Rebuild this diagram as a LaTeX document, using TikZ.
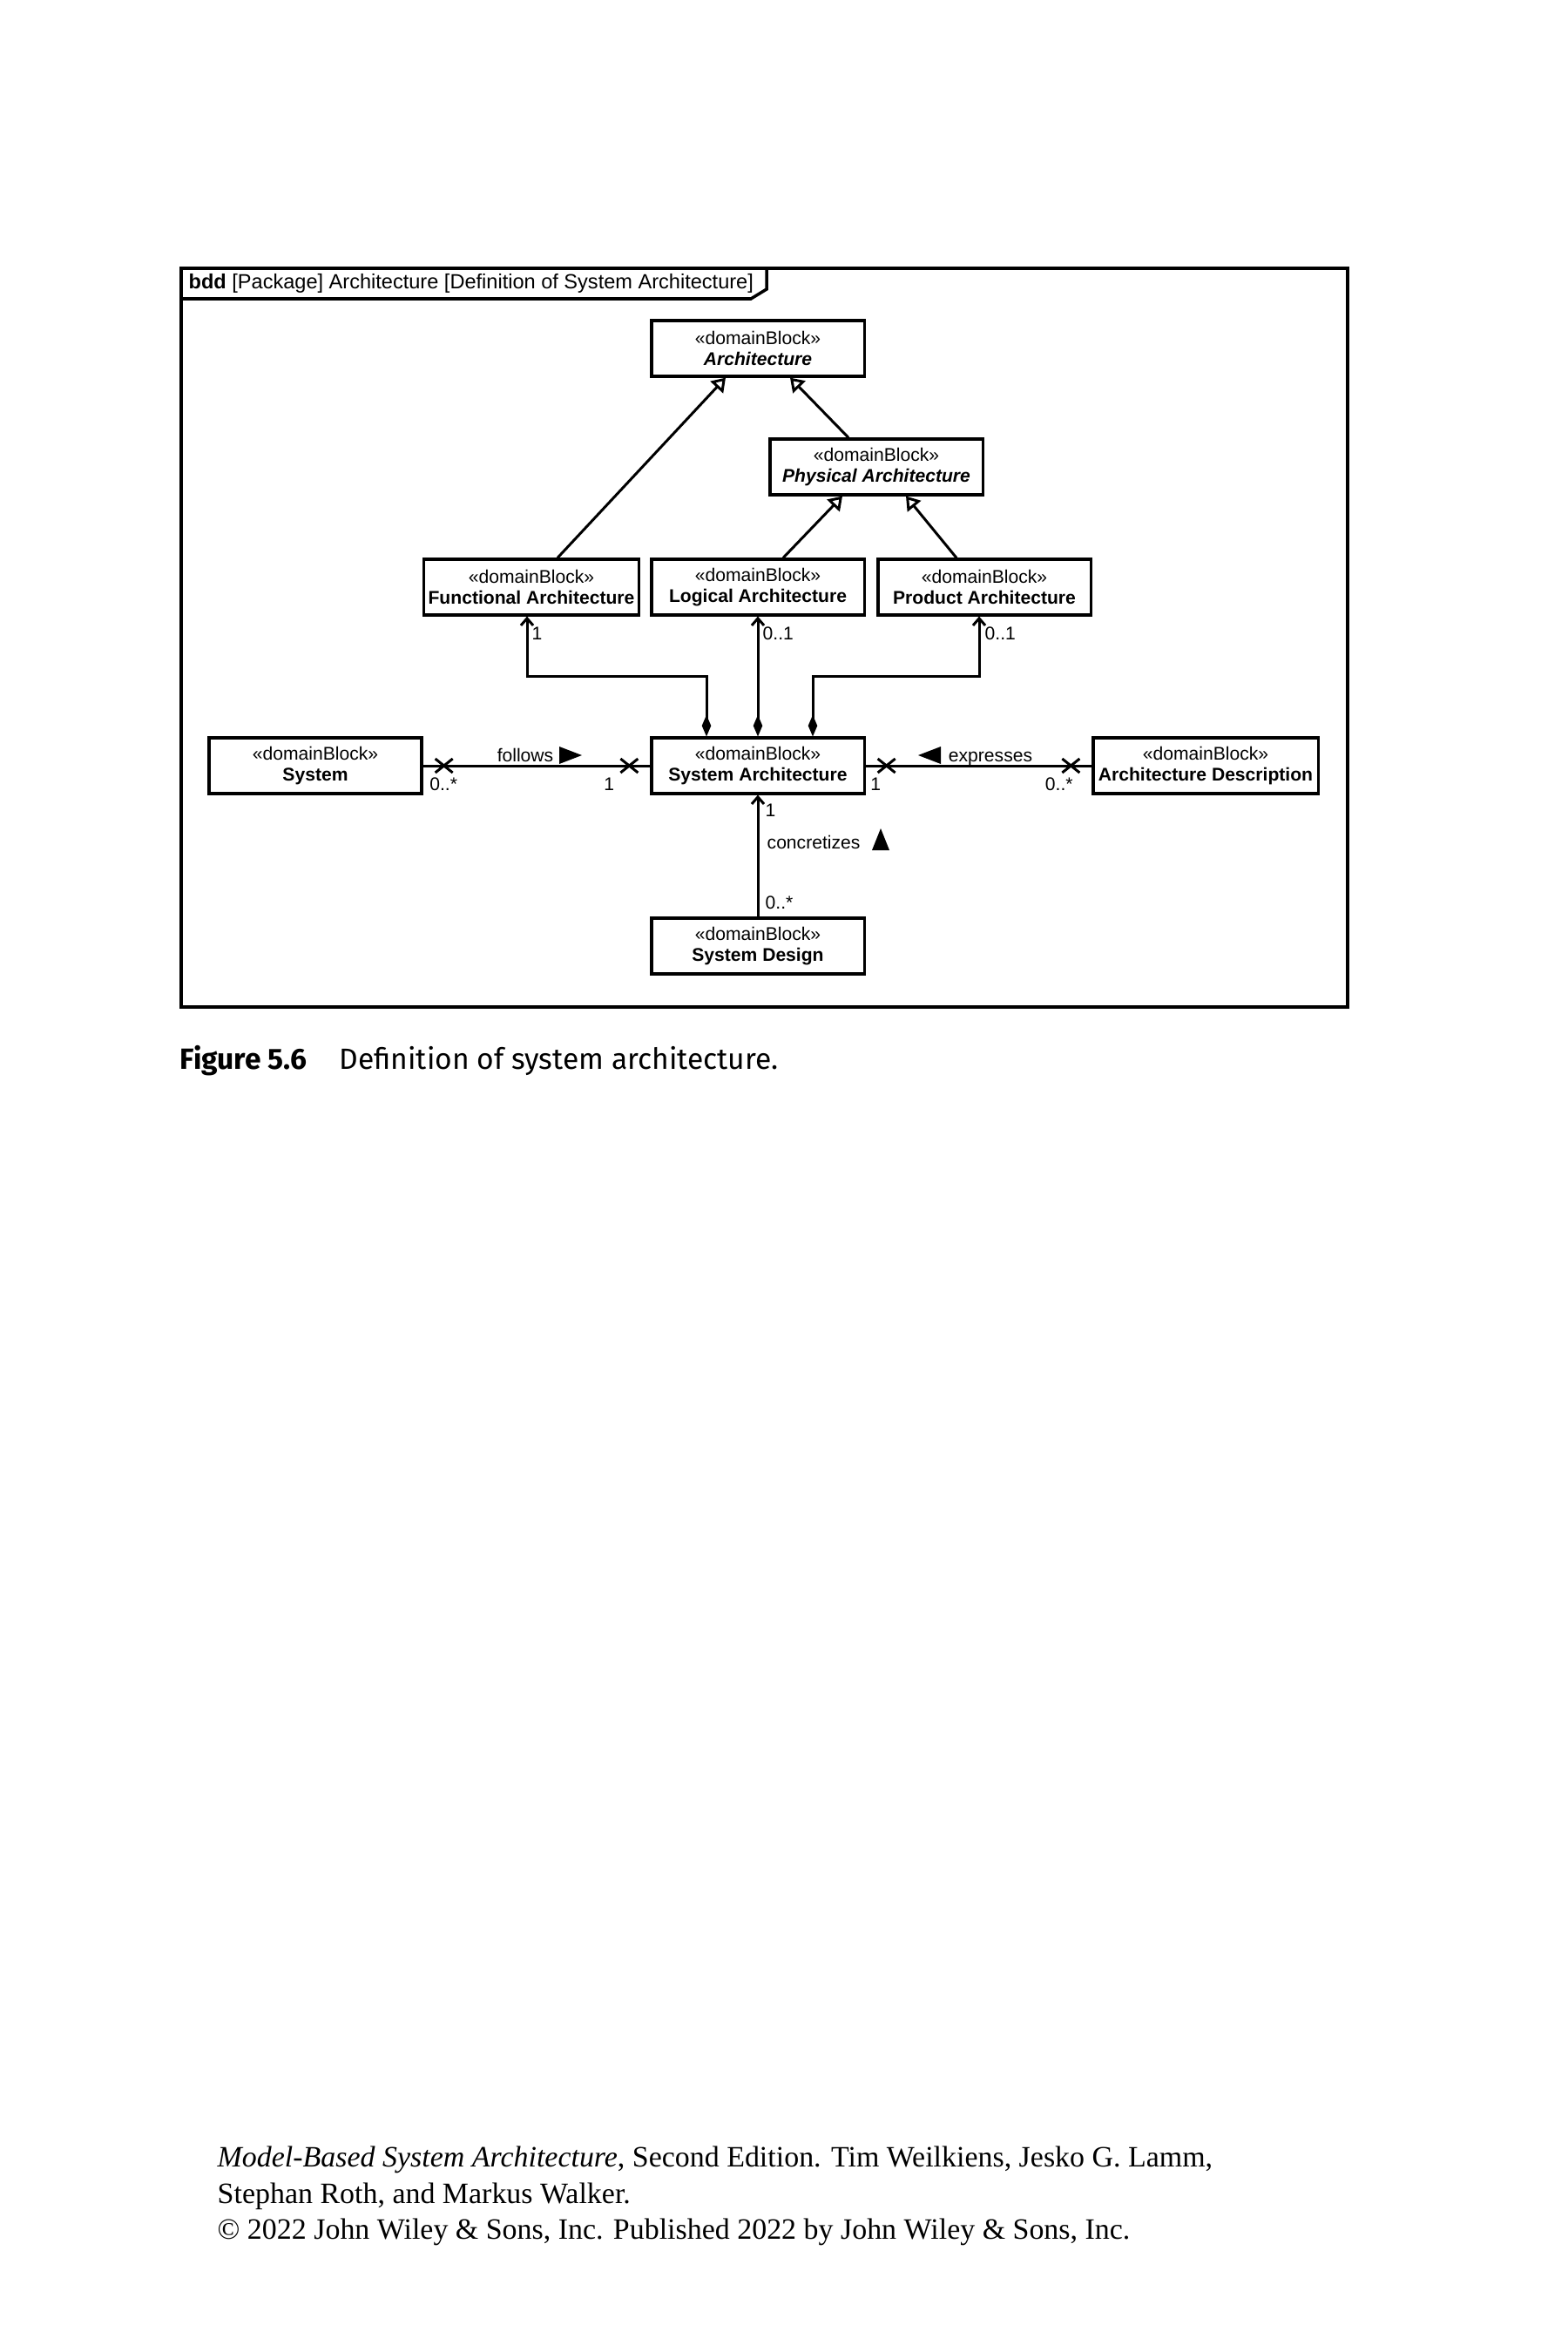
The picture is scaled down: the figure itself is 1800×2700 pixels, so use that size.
\documentclass[tikz,border=0pt]{standalone}
\usepackage{fontspec}
\setmainfont{Liberation Sans}
\newfontfamily\capfont{Fira Sans}
\newfontfamily\footfont{Liberation Serif}
\usetikzlibrary{arrows.meta,shapes.misc,calc}

\newcommand{\blockfont}{\fontsize{6}{6.8}\selectfont}

\tikzset{
  block/.style={draw, line width=0.9pt, fill=white, align=center,
    minimum width=2.44cm, minimum height=0.64cm, inner sep=0pt, font=\blockfont},
  conn/.style={line width=0.85pt},
  gen/.style={conn, -{Triangle[open, length=4.3pt, width=5.6pt, fill=white]}},
  comp/.style={conn, {Diamond[length=7pt, width=3pt]}-{Straight Barb[length=2.3pt, width=4pt]}},
  xmark/.style={cross out, draw, line width=0.85pt, inner sep=0pt,
    minimum width=0.17cm, minimum height=0.13cm},
  mult/.style={font=\blockfont, inner sep=0pt},
  frame/.style={line width=1pt},
  footline/.style={anchor=base west, inner sep=0pt, font=\footfont\fontsize{9.65}{11}\selectfont}
}

\begin{document}
\begin{tikzpicture}[x=0.01cm,y=-0.01cm]
     \useasboundingbox (0,0) rectangle (1800,2700);

          % frame with header
          \draw[frame] (208,308) rectangle (1547,1156);
          \draw[frame] (208,343) -- (862,343) -- (880,332) -- (880,308);
          \node[anchor=west, inner sep=0pt, font=\fontsize{6.7}{8}\selectfont] (hdr) at (216,325)
          {\textbf{bdd} [Package] Architecture [Definition of System Architecture]};

          % blocks
          \node[block] (arch) at (870,400) {«domainBlock»\\\textbf{\textit{Architecture}}};
          \node[block] (phys) at (1006,536) {«domainBlock»\\\textbf{\textit{Physical Architecture}}};
          \node[block, minimum width=2.47cm] (func) at (610,674) {«domainBlock»\\\textbf{Functional Architecture}};
          \node[block] (logi) at (870,674) {«domainBlock»\\\textbf{Logical Architecture}};
          \node[block] (prod) at (1130,674) {«domainBlock»\\\textbf{Product Architecture}};
          \node[block] (sys) at (362,879) {«domainBlock»\\\textbf{System}};
          \node[block] (sysarch) at (870,879) {«domainBlock»\\\textbf{System Architecture}};
          \node[block, minimum width=2.58cm] (archdesc) at (1384,879) {«domainBlock»\\\textbf{Architecture Description}};
          \node[block] (sysdes) at (870,1086) {«domainBlock»\\\textbf{System Design}};

          % generalizations
          \draw[gen] ($(func.north)+(30,0)$) -- ($(arch.south)+(-37,0)$);
          \draw[gen] ($(phys.north)+(-32,0)$) -- ($(arch.south)+(37,0)$);
          \draw[gen] ($(logi.north)+(29,0)$) -- ($(phys.south)+(-39,0)$);
          \draw[gen] ($(prod.north)+(-32,0)$) -- ($(phys.south)+(34,0)$);

          % compositions
          \draw[comp] ($(sysarch.north)+(-59,0)$) -- ++(0,-69) -| ($(func.south)+(-5,0)$);
          \draw[comp] (sysarch.north) -- (logi.south);
          \draw[comp] ($(sysarch.north)+(63,0)$) -- ++(0,-69) -| ($(prod.south)+(-6,0)$);
          \node[mult, anchor=west] (funcm) at ($(func.south)+(0,20)$) {1};
          \node[mult, anchor=west] (logim) at ($(logi.south)+(5,20)$) {0..1};
          \node[mult, anchor=west] (prodm) at ($(prod.south)+(0,20)$) {0..1};

          % associations
          \draw[conn] (sys.east) -- (sysarch.west);
          \node[xmark] (followsa) at ($(sys.east)+(24,0)$) {};
          \node[xmark] (followsb) at ($(sysarch.west)+(-24,0)$) {};
          \node[mult, anchor=west] (sysm) at ($(sys.east)+(7,21)$) {0..*};
          \node[mult] (sysarchm) at ($(sysarch.west)+(-47,21)$) {1};
          \node[mult, anchor=base] (follows) at (603,874) {follows};
          \fill (642,857) -- (668,867) -- (642,877) -- cycle;

          \draw[conn] (sysarch.east) -- (archdesc.west);
          \node[xmark] (expressa) at ($(sysarch.east)+(24,0)$) {};
          \node[xmark] (expressb) at ($(archdesc.west)+(-24,0)$) {};
          \node[mult, anchor=west] (sysarchn) at ($(sysarch.east)+(5,21)$) {1};
          \node[mult, anchor=east] (archdescm) at ($(archdesc.west)+(-21,21)$) {0..*};
          \node[mult, anchor=base] (expresses) at (1137,874) {expresses};
          \fill (1080,857) -- (1054,867) -- (1080,877) -- cycle;

          \draw[conn, -{Straight Barb[length=2.3pt, width=4pt]}] (sysdes.north) -- (sysarch.south);
          \node[mult, anchor=west] (sysarcho) at ($(sysarch.south)+(8,18)$) {1};
          \node[mult, anchor=west] (concretizes) at (880,967) {concretizes};
          \fill (1001,976) -- (1011,951) -- (1021,976) -- cycle;
          \node[mult, anchor=west] (sysdesm) at ($(sysdes.north)+(8,-16)$) {0..*};

          % caption and footer
          \node[anchor=base west, inner sep=0pt, font=\capfont\fontsize{9.55}{11}\selectfont] (caption) at (206,1227)
          {\textbf{Figure 5.6}\hspace{1.1em}Definition of system architecture.};
          \node[footline] (foota) at (249,2487)
          {\textit{Model-Based System Architecture}, Second Edition. Tim Weilkiens, Jesko G. Lamm,};
          \node[footline] (footb) at (249,2529) {Stephan Roth, and Markus Walker.};
          \node[footline] (footc) at (249,2570)
          {© 2022 John Wiley \& Sons, Inc. Published 2022 by John Wiley \& Sons, Inc.};
        \end{tikzpicture}
\end{document}
